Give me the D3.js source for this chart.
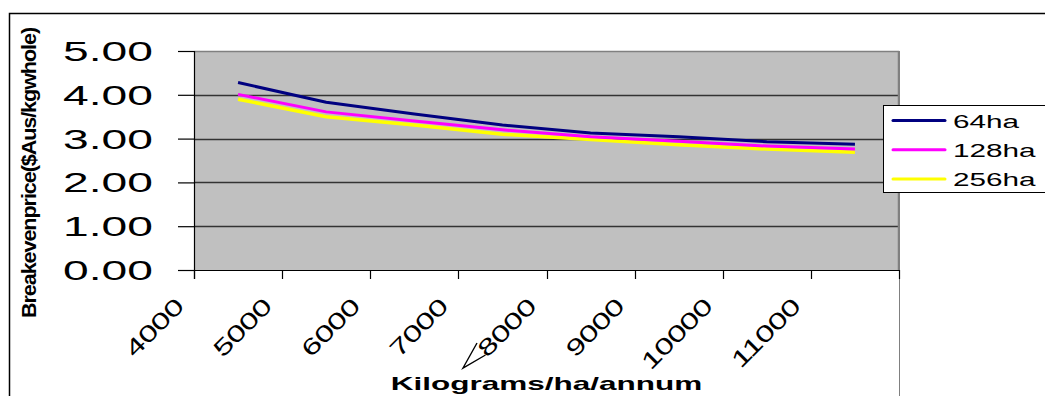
<!DOCTYPE html>
<html>
<head>
<meta charset="utf-8">
<script src="https://cdn.jsdelivr.net/npm/d3@7/dist/d3.min.js"></script>
<style>
  html, body { margin: 0; padding: 0; background: #fff; }
  svg { display: block; font-family: "Liberation Sans", Arial, sans-serif; }
</style>
</head>
<body>
<svg id="chart" width="1045" height="396"></svg>
<script>
// Yield per hectare (kg/ha/annum)
const categories = ["4000", "5000", "6000", "7000", "8000", "9000", "10000", "11000"];
// Breakeven price ($Aus/kg whole) by farm size
const seriesNames = ["64ha", "128ha", "256ha"];
const values64  = [4.28, 3.83, 3.56, 3.31, 3.13, 3.04, 2.93, 2.87];
const values128 = [4.01, 3.61, 3.40, 3.20, 3.04, 2.94, 2.83, 2.76];
const values256 = [3.90, 3.50, 3.31, 3.10, 2.98, 2.86, 2.76, 2.69];
const yTicks = [0, 1, 2, 3, 4, 5];
const colors = ["#000080", "#ff00ff", "#ffff00"];

const series = [values64, values128, values256];

const svg = d3.select("#chart");
const plot = { left: 194, right: 899, top: 51, bottom: 270 };
const stretch = 1.65;

// outer chart frame
svg.append("rect")
  .attr("x", 9.5).attr("y", 13.5)
  .attr("width", 1060).attr("height", 400)
  .attr("fill", "#fff").attr("stroke", "#000").attr("stroke-width", 1.5);

const x = d3.scaleBand().domain(categories).range([plot.left, plot.right]).padding(0);
const y = d3.scaleLinear().domain([0, 5]).range([plot.bottom, plot.top]);

// plot area
svg.append("rect")
  .attr("x", plot.left).attr("y", plot.top)
  .attr("width", plot.right - plot.left).attr("height", plot.bottom - plot.top)
  .attr("fill", "#c0c0c0");

// horizontal gridlines
svg.append("g")
  .selectAll("line")
  .data(yTicks.filter(d => d > 0 && d < 5))
  .join("line")
  .attr("x1", plot.left).attr("x2", plot.right)
  .attr("y1", d => Math.round(y(d)) + 0.5).attr("y2", d => Math.round(y(d)) + 0.5)
  .attr("stroke", "#333").attr("stroke-width", 1.3);

// plot area border (top and right)
svg.append("path")
  .attr("d", `M${plot.left},${plot.top + 0.5}H${plot.right - 0.5}V${plot.bottom}`)
  .attr("fill", "none").attr("stroke", "#808080").attr("stroke-width", 1.5);
svg.append("line")
  .attr("x1", plot.right + 0.5).attr("x2", plot.right + 0.5)
  .attr("y1", plot.top).attr("y2", 396)
  .attr("stroke", "#808080").attr("stroke-width", 1);

// y axis
const yAxis = svg.append("g").attr("transform", `translate(${plot.left},0)`)
  .call(d3.axisLeft(y).tickValues(yTicks).tickSize(16).tickFormat(() => ""));
yAxis.select(".domain").remove();
yAxis.selectAll(".tick line").attr("stroke", "#000").attr("stroke-width", 1.2);
svg.append("line")
  .attr("x1", plot.left + 0.5).attr("x2", plot.left + 0.5)
  .attr("y1", plot.top).attr("y2", plot.bottom + 9)
  .attr("stroke", "#000").attr("stroke-width", 1.2);

svg.append("g").selectAll("text")
  .data(yTicks)
  .join("text")
  .attr("transform", d => `translate(153,${y(d) + 10}) scale(${stretch},1)`)
  .attr("text-anchor", "end")
  .attr("font-size", 28)
  .attr("fill", "#000")
  .text(d => d.toFixed(2));

// x axis (category ticks at band edges)
const xTickPos = categories.map(c => x(c)).concat([plot.right]);
svg.append("line")
  .attr("x1", plot.left).attr("x2", plot.right)
  .attr("y1", plot.bottom + 0.5).attr("y2", plot.bottom + 0.5)
  .attr("stroke", "#000").attr("stroke-width", 1.2);
svg.append("g").selectAll("line")
  .data(xTickPos)
  .join("line")
  .attr("x1", d => Math.round(d) + 0.5).attr("x2", d => Math.round(d) + 0.5)
  .attr("y1", plot.bottom).attr("y2", plot.bottom + 9)
  .attr("stroke", "#000").attr("stroke-width", 1.2);

const xLabels = svg.append("g").selectAll("g")
  .data(categories)
  .join("g")
  .attr("transform", d => `translate(${x(d) - 9},308) rotate(-45)`);
xLabels.append("text")
  .attr("transform", "scale(1.45,1)")
  .attr("text-anchor", "end")
  .attr("font-size", 23)
  .attr("letter-spacing", -0.5)
  .attr("fill", "#000")
  .text(d => d);
// pen stroke trailing from the 8000 label
xLabels.filter(d => d === "8000")
  .append("path")
  .attr("transform", "rotate(45)")
  .attr("d", "M-60.5,35L-74.5,60L-52,47")
  .attr("fill", "none").attr("stroke", "#000").attr("stroke-width", 1.4);

// axis titles
svg.append("text")
  .attr("transform", `translate(${(plot.left + plot.right) / 2},390) scale(1.75,1)`)
  .attr("text-anchor", "middle")
  .attr("font-size", 18).attr("font-weight", "bold")
  .text("Kilograms/ha/annum");

svg.append("text")
  .attr("transform", "translate(36,173) rotate(-90)")
  .attr("text-anchor", "middle")
  .attr("font-size", 20).attr("font-weight", "bold")
  .attr("letter-spacing", -1)
  .attr("textLength", 290).attr("lengthAdjust", "spacingAndGlyphs")
  .text("Breakevenprice($Aus/kgwhole)");

// series lines (drawn 256ha first so 64ha sits on top)
const line = d3.line()
  .x((d, i) => x(categories[i]) + x.bandwidth() / 2)
  .y(d => y(d));
const widths = [3, 3, 3.5];
svg.append("g").selectAll("path")
  .data(series.map((v, i) => ({ v, i })).reverse())
  .join("path")
  .attr("d", d => line(d.v))
  .attr("fill", "none")
  .attr("stroke", d => colors[d.i])
  .attr("stroke-width", d => widths[d.i])
  .attr("stroke-linejoin", "round");

// legend
const legend = svg.append("g");
legend.append("rect")
  .attr("x", 883.5).attr("y", 105.5)
  .attr("width", 170).attr("height", 87)
  .attr("fill", "#fff").attr("stroke", "#000").attr("stroke-width", 1);
const legendY = d3.scalePoint().domain(seriesNames).range([120.5, 179]);
const items = legend.selectAll("g.item")
  .data(seriesNames)
  .join("g").attr("class", "item")
  .attr("transform", d => `translate(0,${legendY(d)})`);
items.append("line")
  .attr("x1", 893).attr("x2", 945)
  .attr("stroke", (d, i) => colors[i]).attr("stroke-width", 3)
  .attr("stroke-linecap", "round");
items.append("text")
  .attr("transform", `translate(953,7) scale(${stretch},1)`)
  .attr("font-size", 18)
  .text(d => d);
</script>
</body>
</html>
